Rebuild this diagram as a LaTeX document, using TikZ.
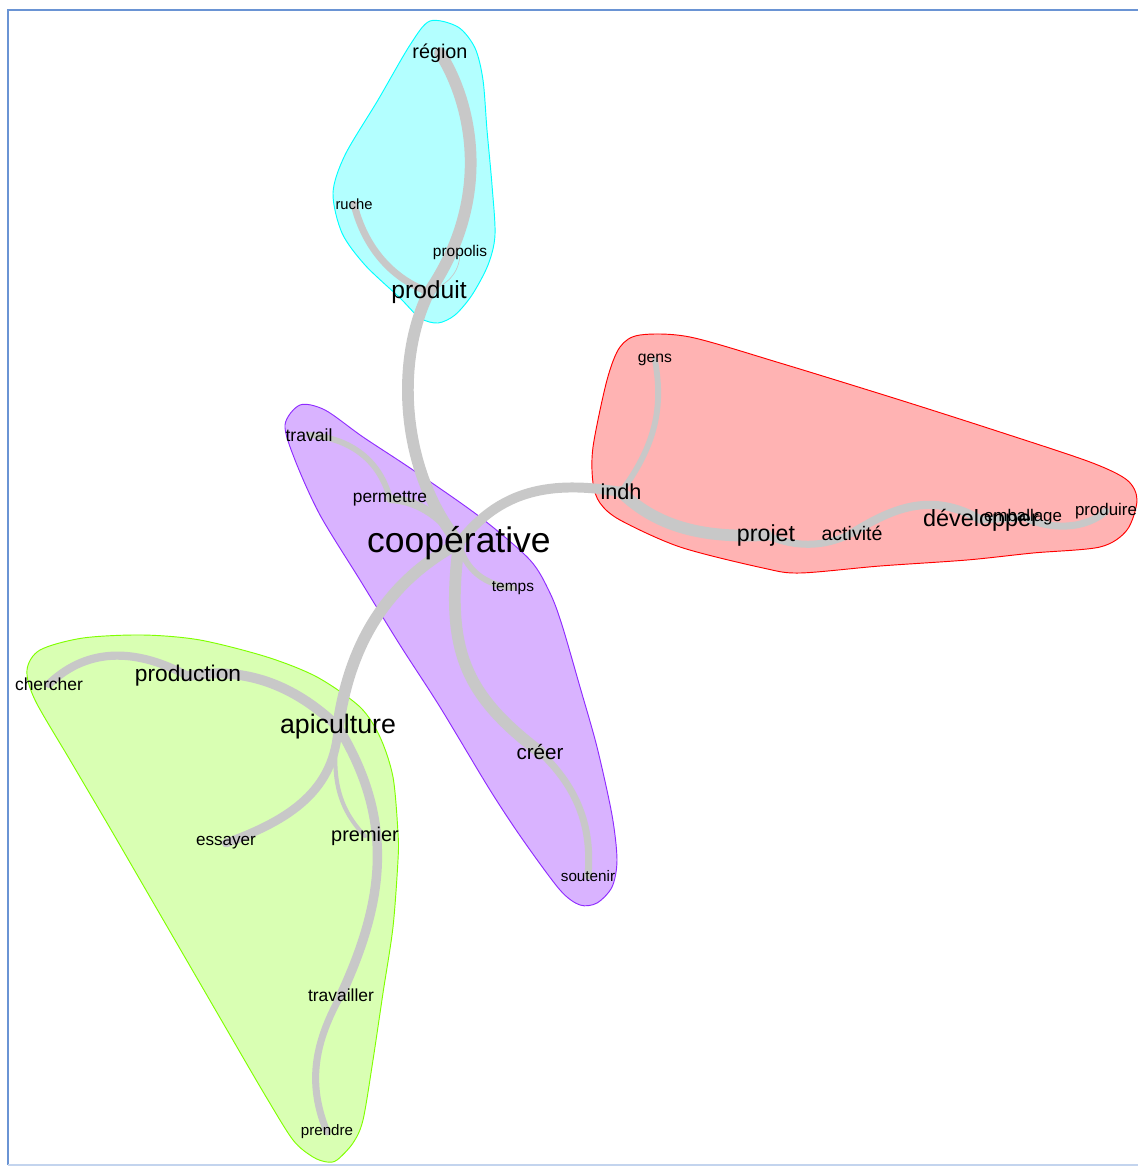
\documentclass[tikz,border=0pt]{standalone}
\usepackage{fontspec}
\setmainfont{Liberation Sans}
\usepackage{tikz}
\usetikzlibrary{backgrounds}
\usepackage{xcolor}
\definecolor{edgegray}{RGB}{200,200,200}
\definecolor{framblue}{RGB}{106,148,212}
\definecolor{cyanline}{RGB}{0,255,255}
\definecolor{cyanfill}{RGB}{179,255,255}
\definecolor{purplefill}{RGB}{217,179,255}
\definecolor{purpleline}{RGB}{143,43,255}
\definecolor{redline}{RGB}{255,0,0}
\definecolor{redfill}{RGB}{255,179,179}
\definecolor{greenfill}{RGB}{217,255,179}
\definecolor{greenline}{RGB}{128,255,0}

\begin{document}
\begin{tikzpicture}[
    x=0.03cm, y=-0.03cm,
    word/.style = {inner sep=0pt, text=black, font=\fontsize{#1pt}{#1pt}\selectfont},
    link/.style = {draw=edgegray, line width=#1pt, line cap=round},
    hull/.style = {line width=0.8pt}
]
\useasboundingbox (0,0) rectangle (1137,1166);

% Frame
\draw [framblue, line width=1.5pt] (8,1165) -- (8,10) -- (1140,10);
\draw [framblue!40, line width=1pt] (8,1165) -- (1140,1165);

% Words, cluster produit
\node (region) [word=16.9] at (440,53) {région};
\node (ruche) [word=12.6] at (354,204) {ruche};
\node (propolis) [word=13.2] at (460,252) {propolis};
\node (produit) [word=21] at (429,292) {produit};

% Words, cluster indh
\node (gens) [word=13.4] at (655,360) {gens};
\node (indh) [word=18.5] at (621,492) {indh};
\node (projet) [word=19.8] at (766,535) {projet};
\node (activite) [word=16.7] at (852,533) {activité};
\node (developper) [word=20] at (981,520) {développer};
\node (emballage) [word=14.4] at (1023,517) {emballage};
\node (produire) [word=14.4] at (1106,511) {produire};

% Words, cluster coopérative
\node (travail) [word=15] at (309,435) {travail};
\node (permettre) [word=14.8] at (390,499) {permettre};
\node (coop) [word=30.3] at (459,543) {coopérative};
\node (temps) [word=13.2] at (513,588) {temps};
\node (creer) [word=17.6] at (540,752) {créer};
\node (soutenir) [word=13] at (588,876) {soutenir};

% Words, cluster apiculture
\node (chercher) [word=14.9] at (49,684) {chercher};
\node (production) [word=19.4] at (188,676) {production};
\node (apiculture) [word=22.8] at (338,727) {apiculture};
\node (essayer) [word=14.6] at (226,843) {essayer};
\node (premier) [word=17] at (365,836) {premier};
\node (travailler) [word=14.9] at (341,995) {travailler};
\node (prendre) [word=12.9] at (327,1132) {prendre};

\begin{scope}[on background layer]
% Hulls
\draw [hull, draw=cyanline, fill=cyanfill] plot[smooth cycle] coordinates {(430,21) (458,27) (475,48) (483,80) (487,130) (492,185) (495,235) (488,265) (472,295) (455,315) (438,323) (420,318) (400,298) (365,265) (342,233) (333,193) (345,155) (378,100) (410,45)};
\draw [hull, draw=purpleline, fill=purplefill] plot[smooth cycle] coordinates {(300,405) (325,410) (363,437) (413,470) (480,517) (530,560) (550,593) (562,625) (580,687) (597,747) (612,815) (617,860) (612,887) (597,903) (580,905) (560,890) (523,840) (490,790) (440,707) (400,645) (360,580) (320,515) (295,460) (285,425)};
\draw [hull, draw=redline, fill=redfill] plot[smooth cycle] coordinates {(640,335) (690,337) (780,363) (900,400) (1000,432) (1090,462) (1127,480) (1137,500) (1127,530) (1100,547) (1033,553) (967,560) (880,566) (800,573) (763,568) (680,547) (620,520) (600,503) (593,483) (593,447) (607,380) (620,347)};
\draw [hull, draw=greenline, fill=greenfill] plot[smooth cycle] coordinates {(27,670) (40,650) (83,638) (143,635) (200,640) (267,657) (317,677) (360,707) (380,737) (393,777) (398,833) (398,860) (393,927) (383,993) (373,1060) (363,1120) (353,1143) (337,1160) (327,1162) (313,1157) (293,1140) (265,1095) (230,1035) (190,966) (150,897) (110,828) (70,760) (35,700)};

% Links
\draw [link=10] (coop.center) .. controls (400,470) and (395,360) .. (produit.center);
\draw [link=10] (produit.center) .. controls (495,195) and (470,100) .. (region.center);
\draw [link=6] (produit.center) .. controls (395,280) and (365,250) .. (ruche.center);
\draw [link=0.6] (produit.center) .. controls (445,285) and (460,275) .. (propolis.center);

\draw [link=8.5] (coop.center) .. controls (500,490) and (550,480) .. (indh.center);
\draw [link=5] (indh.center) .. controls (660,440) and (662,400) .. (gens.center);
\draw [link=10] (indh.center) .. controls (660,530) and (710,538) .. (projet.center);
\draw [link=6] (projet.center) .. controls (800,550) and (830,545) .. (activite.center);
\draw [link=7] (activite.center) .. controls (890,510) and (930,490) .. (developper.center);
\draw [link=6] (developper.center) .. controls (1000,518) and (1010,520) .. (emballage.center);
\draw [link=6] (emballage.center) .. controls (1050,530) and (1085,530) .. (produire.center);

\draw [link=5] (coop.center) .. controls (465,570) and (485,585) .. (temps.center);
\draw [link=10] (coop.center) .. controls (445,650) and (465,695) .. (creer.center);
\draw [link=6] (creer.center) .. controls (580,790) and (592,830) .. (soutenir.center);
\draw [link=5] (travail.center) .. controls (350,438) and (380,460) .. (permettre.center);
\draw [link=7] (permettre.center) .. controls (420,500) and (445,520) .. (coop.center);

\draw [link=10] (coop.center) .. controls (390,580) and (350,640) .. (apiculture.center);
\draw [link=8.5] (apiculture.center) .. controls (300,690) and (250,665) .. (production.center);
\draw [link=7] (production.center) .. controls (140,650) and (90,645) .. (chercher.center);
\draw [link=7.5] (apiculture.center) .. controls (335,790) and (290,820) .. (essayer.center);
\draw [link=3.5] (apiculture.center) .. controls (330,780) and (340,810) .. (premier.center);
\draw [link=8] (apiculture.center) .. controls (395,820) and (385,900) .. (travailler.center);
\draw [link=6] (travailler.center) .. controls (310,1050) and (310,1090) .. (prendre.center);
\end{scope}

\end{tikzpicture}
\end{document}
